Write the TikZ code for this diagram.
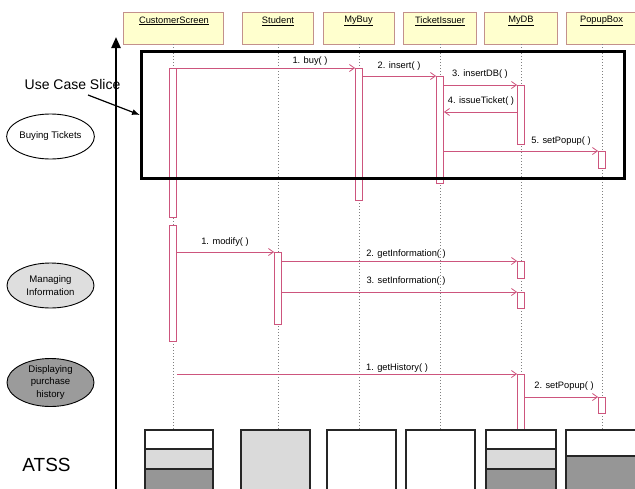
\documentclass[tikz,border=0pt]{standalone}
\usepackage{fontspec}
\setmainfont{Liberation Sans}
\usetikzlibrary{arrows.meta,shapes.geometric}
\definecolor{msg}{RGB}{205,85,125}
\definecolor{hdrfill}{RGB}{255,255,206}
\definecolor{hdrdraw}{RGB}{195,145,140}
\definecolor{lgray}{RGB}{218,218,218}
\definecolor{dgray}{RGB}{150,150,150}
\definecolor{egray}{RGB}{222,222,222}
\definecolor{edark}{RGB}{155,155,155}
\begin{document}
\begin{tikzpicture}[x=1pt,y=-1pt,
  hdr/.style={draw=hdrdraw,fill=hdrfill,line width=0.9pt,minimum height=32pt,inner sep=0pt},
  hdrtext/.style={font=\fontsize{9.3}{10}\selectfont,inner sep=0pt},
  lifeline/.style={draw=gray,line width=0.8pt,dash pattern=on 1pt off 2pt},
  actbar/.style={draw=msg,fill=white,line width=0.8pt,minimum width=7pt,inner sep=0pt,anchor=north},
  msgline/.style={draw=msg,line width=0.8pt,-{Straight Barb[length=5pt,width=7pt]}},
  lbl/.style={font=\fontsize{9.3}{10}\selectfont,inner sep=0pt},
  usecase/.style={ellipse,draw,line width=0.9pt,minimum width=87pt,minimum height=45pt,inner sep=0pt,align=center,font=\fontsize{9.6}{12.5}\selectfont},
  bbox/.style={draw=black!85,line width=1.3pt}
]
\useasboundingbox (0,0) rectangle (635,488);
\clip (0,0) rectangle (635,488);

% header boxes
\node[hdr,minimum width=100pt] (cs) at (173,28) {};
\node[hdr,minimum width=71pt] (st) at (277.5,28) {};
\node[hdr,minimum width=71pt] (mb) at (358.5,28) {};
\node[hdr,minimum width=73pt] (ti) at (439.5,28) {};
\node[hdr,minimum width=73pt] (db) at (520.5,28) {};
\node[hdr,minimum width=70pt] (pb) at (601,28) {};
\node[hdrtext] at (174,21) {\underline{CustomerScreen}};
\node[hdrtext] at (278,21) {\underline{Student}};
\node[hdrtext] at (358.5,21) {\underline{MyBuy}};
\node[hdrtext] at (440,21) {\underline{TicketIssuer}};
\node[hdrtext] at (521,21) {\underline{MyDB}};
\node[hdrtext] at (601.5,21) {\underline{PopupBox}};

% bottom line of lifelines
\coordinate (lb) at (0,430);
\coordinate (csL) at (173,44);
\coordinate (stL) at (278,44);
\coordinate (mbL) at (359,44);
\coordinate (tiL) at (440,44);
\coordinate (dbL) at (521,44);
\coordinate (pbL) at (602,44);
\foreach \n in {csL,stL,mbL,tiL,dbL,pbL}{
  \draw[lifeline] (\n) -- (\n |- lb);
}

% activation bars
\node[actbar,minimum height=149pt] (cs1) at (173,68) {};
\node[actbar,minimum height=116pt] (cs2) at (173,225) {};
\node[actbar,minimum height=72pt] (st1) at (278,252) {};
\node[actbar,minimum height=132pt] (mb1) at (359,68) {};
\node[actbar,minimum height=107pt] (ti1) at (440,76) {};
\node[actbar,minimum height=59pt] (db1) at (521,85) {};
\node[actbar,minimum height=17pt] (pb1) at (602,151) {};
\node[actbar,minimum height=17pt] (db2) at (521,261) {};
\node[actbar,minimum height=16pt] (db3) at (521,292) {};
\node[actbar,minimum height=57pt] (db4) at (521,374) {};
\node[actbar,minimum height=16pt] (pb2) at (602,397) {};

% messages
\coordinate (m4) at (0,112);
\draw[msgline] (cs1.north east) -- (mb1.north west);
\draw[msgline] (mb1.east |- ti1.north) -- (ti1.north west);
\draw[msgline] (ti1.east |- db1.north) -- (db1.north west);
\draw[msgline] (db1.west |- m4) -- (ti1.east |- m4);
\draw[msgline] (ti1.east |- pb1.north) -- (pb1.north west);
\draw[msgline] (cs2.east |- st1.north) -- (st1.north west);
\draw[msgline] (st1.east |- db2.north) -- (db2.north west);
\draw[msgline] (st1.east |- db3.north) -- (db3.north west);
\draw[msgline] (cs1.east |- db4.north) -- (db4.north west);
\draw[msgline] (db4.east |- pb2.north) -- (pb2.north west);

\node[lbl] at (310,61) {1. buy( )};
\node[lbl] at (399,66) {2. insert( )};
\node[lbl] at (480,74) {3. insertDB( )};
\node[lbl] at (481,101) {4. issueTicket( )};
\node[lbl] at (561,141) {5. setPopup( )};
\node[lbl] at (225,242) {1. modify( )};
\node[lbl] at (406,254) {2. getInformation( )};
\node[lbl] at (406,281) {3. setInformation( )};
\node[lbl] at (397,368) {1. getHistory( )};
\node[lbl] at (564,386) {2. setPopup( )};

% use case slice frame
\node[draw=black,line width=3pt,minimum width=483pt,minimum height=127pt,inner sep=0pt,anchor=north west] (slice) at (140,50) {};
\node[font=\fontsize{14}{16}\selectfont,inner sep=0pt] (ucs) at (72.5,84) {Use Case Slice};
\coordinate (ucsA) at (88,95);
\draw[line width=1.2pt,-{Latex[length=8pt,width=6pt]}] (ucsA) -- (slice.west);

% axis
\coordinate (ax0) at (116,492);
\coordinate (ax1) at (116,37);
\draw[line width=2.3pt,-{Triangle[length=11pt,width=9pt]}] (ax0) -- (ax1);

% use cases
\node[usecase,fill=white] (uc1) at (50.5,136.5) {Buying Tickets};
\node[usecase,fill=egray] (uc2) at (50.5,285.5) {Managing\\Information};
\node[usecase,fill=edark] (uc3) at (50.5,382.5) {Displaying\\purchase\\history};

\node[font=\fontsize{19}{22}\selectfont,inner sep=0pt] (atss) at (46.5,465) {ATSS};

% bottom boxes
\fill[white] (145,430) rectangle (213,449);
\fill[lgray] (145,449) rectangle (213,469);
\fill[dgray] (145,469) rectangle (213,500);
\draw[bbox] (145,449) -- (213,449) (145,469) -- (213,469);
\draw[bbox] (145,430) rectangle (213,500);

\draw[bbox,fill=lgray] (241,430) rectangle (310,500);
\draw[bbox,fill=white] (327,430) rectangle (396,500);
\draw[bbox,fill=white] (406,430) rectangle (475,500);

\fill[white] (486,430) rectangle (556,449);
\fill[lgray] (486,449) rectangle (556,469);
\fill[dgray] (486,469) rectangle (556,500);
\draw[bbox] (486,449) -- (556,449) (486,469) -- (556,469);
\draw[bbox] (486,430) rectangle (556,500);

\fill[white] (566,430) rectangle (640,456);
\fill[dgray] (566,456) rectangle (640,500);
\draw[bbox] (566,456) -- (640,456);
\draw[bbox] (566,430) rectangle (640,500);
\end{tikzpicture}
\end{document}
